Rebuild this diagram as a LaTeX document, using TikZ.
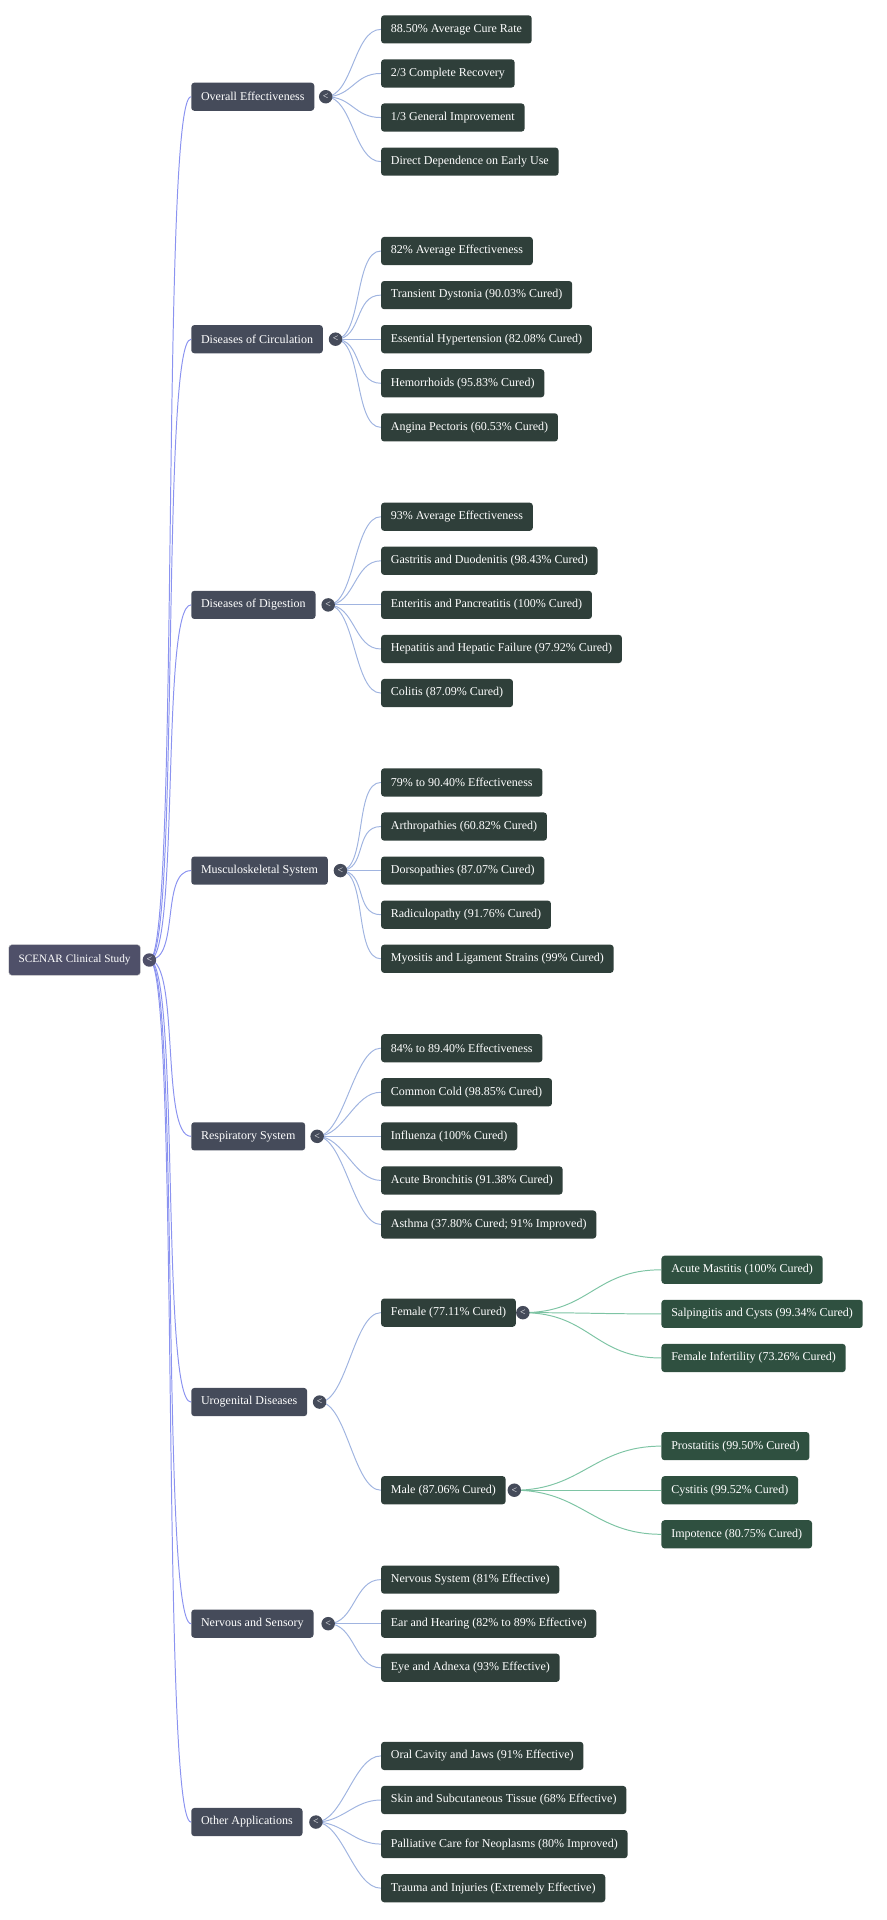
\documentclass[tikz,border=0pt]{standalone}
\usepackage{fontspec}
\setmainfont{Liberation Serif}
\usetikzlibrary{calc}
\begin{document}
\begin{tikzpicture}[x=1pt,y=-1pt,
  box/.style={anchor=west,rounded corners=2.5pt,text=white,font=\fontsize{9.8}{11}\selectfont,minimum height=23,inner xsep=8pt},
  root/.style={box,fill=rootc,draw=gray!40,line width=0.3pt,font=\fontsize{9.2}{11}\selectfont,minimum height=25},
  l1/.style={box,fill=l1c},
  leaf/.style={box,fill=leafc},
  l3/.style={box,fill=l3c},
  tog/.style={circle,fill=l1c,minimum size=11,inner sep=0pt,text=white,font=\fontsize{8}{8}\selectfont},
  e0/.style={draw=bluec,line width=0.8pt},
  e1/.style={draw=lbluec,line width=0.8pt},
  e2/.style={draw=greenc,line width=0.8pt}]
\definecolor{rootc}{HTML}{4F5069}
\definecolor{l1c}{HTML}{454B5A}
\definecolor{leafc}{HTML}{2F3F3A}
\definecolor{l3c}{HTML}{2F5040}
\definecolor{bluec}{HTML}{8B93F0}
\definecolor{lbluec}{HTML}{A0B4E0}
\definecolor{greenc}{HTML}{7EC4A4}
\useasboundingbox (0,0) rectangle (724,1568);
% root
\node[root] (r) at (7,784) {SCENAR Clinical Study};
\coordinate (rt) at (122,784);
% level 1
\node[l1] (a) at (156,79) {Overall Effectiveness};
\node[l1] (b) at (156,277) {Diseases of Circulation};
\node[l1] (c) at (156,494) {Diseases of Digestion};
\node[l1] (d) at (156,711) {Musculoskeletal System};
\node[l1] (e) at (156,928) {Respiratory System};
\node[l1] (f) at (156,1145) {Urogenital Diseases};
\node[l1] (g) at (156,1326) {Nervous and Sensory};
\node[l1] (h) at (156,1488) {Other Applications};
\foreach \n in {a,b,c,d,e,f,g,h}{\draw[e0] (rt) .. controls +(25,0) and ($(\n.west)+(-25,0)$) .. (\n.west);}
% leaves
\node[leaf] (a1) at (311,24) {88.50\% Average Cure Rate};
\node[leaf] (a2) at (311,60) {2/3 Complete Recovery};
\node[leaf] (a3) at (311,96) {1/3 General Improvement};
\node[leaf] (a4) at (311,132) {Direct Dependence on Early Use};
\node[leaf] (b1) at (311,205) {82\% Average Effectiveness};
\node[leaf] (b2) at (311,241) {Transient Dystonia (90.03\% Cured)};
\node[leaf] (b3) at (311,277) {Essential Hypertension (82.08\% Cured)};
\node[leaf] (b4) at (311,313) {Hemorrhoids (95.83\% Cured)};
\node[leaf] (b5) at (311,349) {Angina Pectoris (60.53\% Cured)};
\node[leaf] (c1) at (311,422) {93\% Average Effectiveness};
\node[leaf] (c2) at (311,458) {Gastritis and Duodenitis (98.43\% Cured)};
\node[leaf] (c3) at (311,494) {Enteritis and Pancreatitis (100\% Cured)};
\node[leaf] (c4) at (311,530) {Hepatitis and Hepatic Failure (97.92\% Cured)};
\node[leaf] (c5) at (311,566) {Colitis (87.09\% Cured)};
\node[leaf] (d1) at (311,639) {79\% to 90.40\% Effectiveness};
\node[leaf] (d2) at (311,675) {Arthropathies (60.82\% Cured)};
\node[leaf] (d3) at (311,711) {Dorsopathies (87.07\% Cured)};
\node[leaf] (d4) at (311,747) {Radiculopathy (91.76\% Cured)};
\node[leaf] (d5) at (311,783) {Myositis and Ligament Strains (99\% Cured)};
\node[leaf] (e1) at (311,856) {84\% to 89.40\% Effectiveness};
\node[leaf] (e2) at (311,892) {Common Cold (98.85\% Cured)};
\node[leaf] (e3) at (311,928) {Influenza (100\% Cured)};
\node[leaf] (e4) at (311,964) {Acute Bronchitis (91.38\% Cured)};
\node[leaf] (e5) at (311,1000) {Asthma (37.80\% Cured; 91\% Improved)};
\node[leaf] (f1) at (311,1072) {Female (77.11\% Cured)};
\node[leaf] (f2) at (311,1217) {Male (87.06\% Cured)};
\node[leaf] (g1) at (311,1290) {Nervous System (81\% Effective)};
\node[leaf] (g2) at (311,1326) {Ear and Hearing (82\% to 89\% Effective)};
\node[leaf] (g3) at (311,1362) {Eye and Adnexa (93\% Effective)};
\node[leaf] (h1) at (311,1434) {Oral Cavity and Jaws (91\% Effective)};
\node[leaf] (h2) at (311,1470) {Skin and Subcutaneous Tissue (68\% Effective)};
\node[leaf] (h3) at (311,1506) {Palliative Care for Neoplasms (80\% Improved)};
\node[leaf] (h4) at (311,1542) {Trauma and Injuries (Extremely Effective)};
\node[l3] (fa) at (540,1037) {Acute Mastitis (100\% Cured)};
\node[l3] (fb) at (540,1073) {Salpingitis and Cysts (99.34\% Cured)};
\node[l3] (fc) at (540,1109) {Female Infertility (73.26\% Cured)};
\node[l3] (ma) at (540,1181) {Prostatitis (99.50\% Cured)};
\node[l3] (mb) at (540,1217) {Cystitis (99.52\% Cured)};
\node[l3] (mc) at (540,1253) {Impotence (80.75\% Cured)};
% toggles
\coordinate (at) at (266,79);
\coordinate (bt) at (274,277);
\coordinate (ct) at (268,494);
\coordinate (dt) at (278,711);
\coordinate (et) at (259,928);
\coordinate (ft) at (261,1145);
\coordinate (gt) at (268,1326);
\coordinate (ht) at (258,1488);
\coordinate (f1t) at (427,1072);
\coordinate (f2t) at (420,1217);
\foreach \p/\cs in {a/{a1,a2,a3,a4},b/{b1,b2,b3,b4,b5},c/{c1,c2,c3,c4,c5},d/{d1,d2,d3,d4,d5},e/{e1,e2,e3,e4,e5},f/{f1,f2},g/{g1,g2,g3},h/{h1,h2,h3,h4}}{
  \foreach \c in \cs {\draw[e1] (\p t) .. controls +(22,0) and ($(\c.west)+(-22,0)$) .. (\c.west);}}
\foreach \c in {fa,fb,fc}{\draw[e2] (f1t) .. controls +(55,0) and ($(\c.west)+(-55,0)$) .. (\c.west);}
\foreach \c in {ma,mb,mc}{\draw[e2] (f2t) .. controls +(55,0) and ($(\c.west)+(-55,0)$) .. (\c.west);}
\foreach \t in {at,bt,ct,dt,et,ft,gt,ht,f1t,f2t}{\node[tog] at (\t) {<};}
\node[tog,fill=rootc] (rtn) at (rt) {<};
\end{tikzpicture}
\end{document}
